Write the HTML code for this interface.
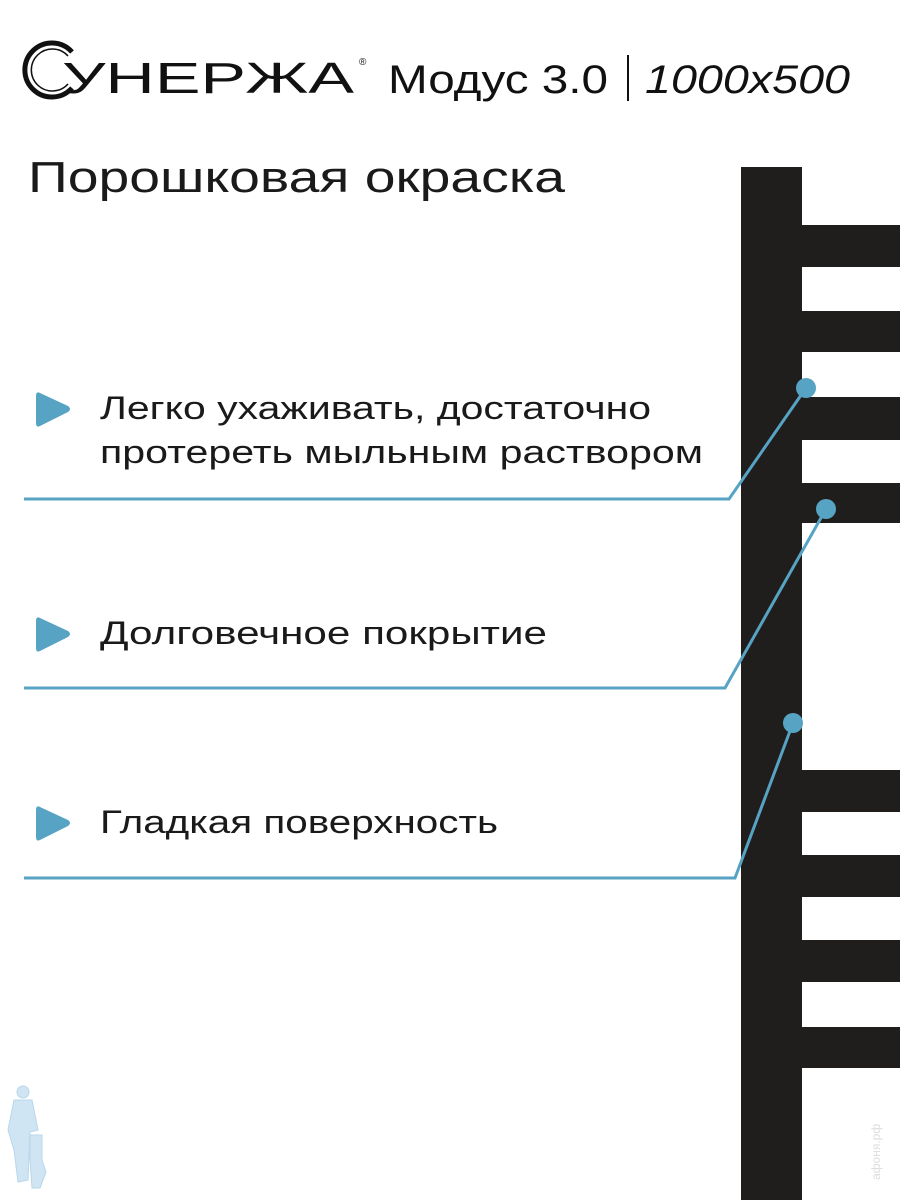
<!DOCTYPE html>
<html><head><meta charset="utf-8"><style>
html,body{margin:0;padding:0;background:#fff;width:900px;height:1200px;overflow:hidden}
svg{display:block}
text{font-family:"Liberation Sans","DejaVu Sans",sans-serif;fill:#1a1a1a}
</style></head><body>
<svg width="900" height="1200" viewBox="0 0 900 1200">
<rect width="900" height="1200" fill="#fff"/>
<rect x="741" y="167" width="61" height="1033" fill="#201e1d"/>
<g fill="#201e1d">
<rect x="802" y="225" width="98" height="42"/>
<rect x="802" y="311" width="98" height="41"/>
<rect x="802" y="397" width="98" height="43"/>
<rect x="802" y="483" width="98" height="40"/>
<rect x="802" y="770" width="98" height="42"/>
<rect x="802" y="855" width="98" height="42"/>
<rect x="802" y="940" width="98" height="42"/>
<rect x="802" y="1027" width="98" height="41"/>
</g>
<!-- logo C -->
<path d="M72 52 A27 27 0 1 0 72 88" fill="none" stroke="#111" stroke-width="5"/>
<path d="M68 56 A21 21 0 1 0 68 84" fill="none" stroke="#111" stroke-width="1.5"/>
<text x="62" y="93" font-size="44" textLength="292" lengthAdjust="spacingAndGlyphs" style="fill:#111">УНЕРЖА</text>
<text x="359" y="65" font-size="10" style="fill:#111">®</text>
<text x="388" y="93" font-size="40" textLength="220" lengthAdjust="spacingAndGlyphs" style="fill:#111">Модус 3.0</text>
<rect x="627" y="55" width="2" height="46" fill="#111"/>
<text x="645" y="93" font-size="40" font-style="italic" textLength="205" lengthAdjust="spacingAndGlyphs" style="fill:#111">1000x500</text>
<text x="28" y="192" font-size="44" textLength="537" lengthAdjust="spacingAndGlyphs">Порошковая окраска</text>
<g fill="#57a3c3">
<path d="M40 393 L68 406 Q72 409 68 412 L40 426 Q36 428 36 423 L36 396 Q36 391 40 393Z"/>
<path d="M40 618 L68 631 Q72 634 68 637 L40 651 Q36 653 36 648 L36 621 Q36 616 40 618Z"/>
<path d="M40 807 L68 820 Q72 823 68 826 L40 840 Q36 842 36 837 L36 810 Q36 805 40 807Z"/>
</g>
<text x="100" y="419" font-size="32" textLength="551" lengthAdjust="spacingAndGlyphs">Легко ухаживать, достаточно</text>
<text x="100" y="463" font-size="32" textLength="603" lengthAdjust="spacingAndGlyphs">протереть мыльным раствором</text>
<text x="100" y="644" font-size="32" textLength="447" lengthAdjust="spacingAndGlyphs">Долговечное покрытие</text>
<text x="100" y="833" font-size="32" textLength="398" lengthAdjust="spacingAndGlyphs">Гладкая поверхность</text>
<g stroke="#57a3c3" stroke-width="3" fill="none">
<polyline points="24,499 729,499 806,388"/>
<polyline points="24,688 725,688 826,509"/>
<polyline points="24,878 735,878 793,723"/>
</g>
<g fill="#57a3c3">
<circle cx="806" cy="388" r="10"/>
<circle cx="826" cy="509" r="10"/>
<circle cx="793" cy="723" r="10"/>
</g>
<g fill="#cfe5f3" stroke="#b9d6ea" stroke-width="1">
<circle cx="23" cy="1092" r="6"/>
<path d="M14 1100 L32 1100 L38 1130 L30 1132 L28 1180 L18 1182 L14 1150 L8 1130Z"/>
<path d="M30 1135 L42 1135 L42 1160 L46 1172 L40 1188 L32 1188 L30 1160Z"/>
</g>
<text x="0" y="0" font-size="12" transform="translate(880,1180) rotate(-90)" style="fill:#ddd">афоня.рф</text>
</svg>
</body></html>
